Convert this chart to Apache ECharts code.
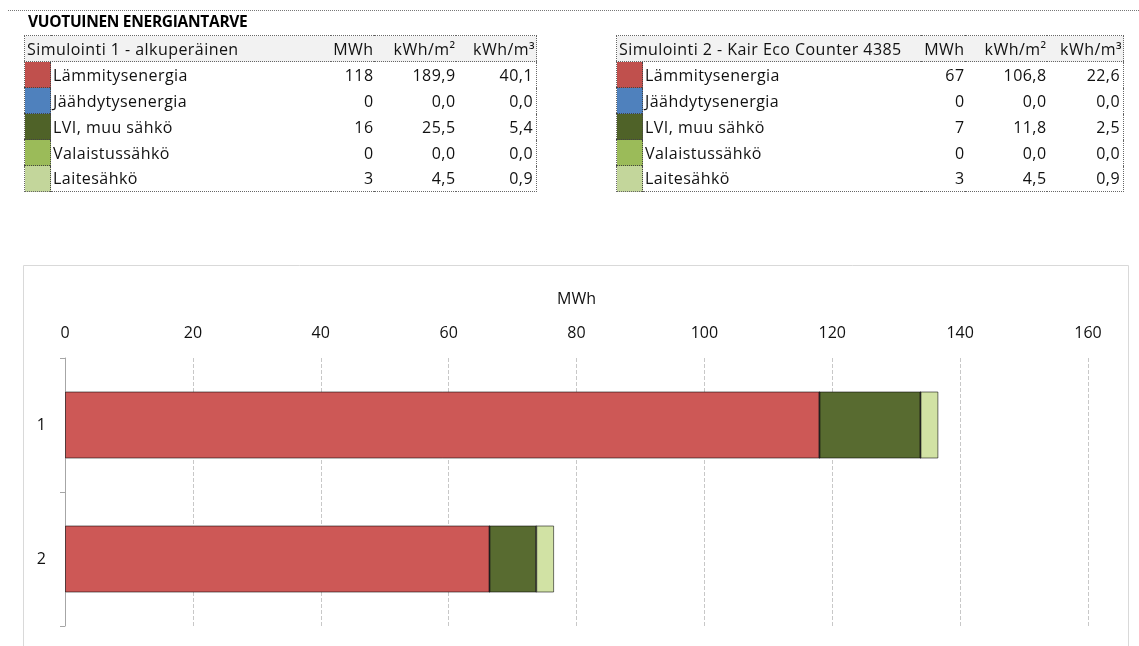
<!DOCTYPE html>
<html><head><meta charset="utf-8">
<script src="https://cdn.jsdelivr.net/npm/echarts@6/dist/echarts.min.js"></script>
<style>
html,body{margin:0;padding:0;background:#fff;width:1139px;height:646px;overflow:hidden;font-family:"Open Sans",sans-serif;}
#chart{position:absolute;left:0;top:0;width:1139px;height:646px;}
.topline{position:absolute;left:8px;top:10px;width:1131px;border-top:1px dotted #777;}
.title{position:absolute;left:28px;top:11px;font-size:15.5px;line-height:20px;font-weight:bold;color:#000;letter-spacing:-0.3px;}
table.t{position:absolute;top:35px;border-collapse:collapse;font-size:16px;letter-spacing:0.45px;color:#111;border:1px dotted #666;table-layout:fixed;}
table.t td{padding:0;height:25px;line-height:24px;white-space:nowrap;overflow:visible;}
table.t tr.h td{background:#f2f2f2;border-bottom:1px dotted #666;}
table.t td.sw{border-top:1px dotted #444;border-right:1px dotted #444;}
table.t td.num{text-align:right;}
</style></head>
<body>
<div id="chart"></div>
<div class="topline"></div>
<div class="title">VUOTUINEN ENERGIANTARVE</div>
<div id="tables"></div>
<script>
// ---- data ----
const seriesNames = ['Lämmitysenergia','Jäähdytysenergia','LVI, muu sähkö','Valaistussähkö','Laitesähkö'];
const categories = ['1','2'];
const tableHeaders = ['MWh','kWh/m²','kWh/m³'];
const sim1Title = 'Simulointi 1 - alkuperäinen';
const sim2Title = 'Simulointi 2 - Kair Eco Counter 4385';
const sim1MWh = ['118','0','16','0','3'];
const sim1kWhm2 = ['189,9','0,0','25,5','0,0','4,5'];
const sim1kWhm3 = ['40,1','0,0','5,4','0,0','0,9'];
const sim2MWh = ['67','0','7','0','3'];
const sim2kWhm2 = ['106,8','0,0','11,8','0,0','4,5'];
const sim2kWhm3 = ['22,6','0,0','2,5','0,0','0,9'];
// bar values (MWh) per category [sim1, sim2]
const lammitys = [118.0, 66.4];
const jaahdytys = [0, 0];
const lvi = [15.8, 7.3];
const valaistus = [0, 0];
const laite = [2.8, 2.8];
const xTicks = [0, 20, 40, 60, 80, 100, 120, 140, 160];

const swatchColors = ['#C0504D','#4F81BD','#4F6228','#9BBB59','#C3D69B'];
const barColors = ['#CD5856','#4F81BD','#586B30','#9BBB59','#D1E2A4'];

function buildTable(left, widths, title, a, b, c){
  let h = '<table class="t" style="left:'+left+'px;width:'+widths.reduce((s,v)=>s+v,0)+'px">';
  h += '<colgroup>' + widths.map(w=>'<col style="width:'+w+'px">').join('') + '</colgroup>';
  h += '<tr class="h"><td colspan="2" style="padding-left:2px">'+title+'</td><td class="num">'+tableHeaders[0]+'</td><td class="num">'+tableHeaders[1]+'</td><td class="num" style="padding-right:1px">'+tableHeaders[2]+'</td></tr>';
  seriesNames.forEach((n,i)=>{
    h += '<tr><td class="sw" style="background:'+swatchColors[i]+'"></td><td style="padding-left:2px">'+n+'</td><td class="num">'+a[i]+'</td><td class="num">'+b[i]+'</td><td class="num" style="padding-right:3px">'+c[i]+'</td></tr>';
  });
  h += '</table>';
  return h;
}
document.getElementById('tables').innerHTML =
  buildTable(24, [26, 280, 43, 82, 81], sim1Title, sim1MWh, sim1kWhm2, sim1kWhm3) +
  buildTable(616, [26, 278, 44, 82, 77], sim2Title, sim2MWh, sim2kWhm2, sim2kWhm3);

const chart = echarts.init(document.getElementById('chart'), null, {renderer:'canvas'});
const vals = [lammitys, jaahdytys, lvi, valaistus, laite];
chart.setOption({
  animation:false,
  textStyle:{fontFamily:'"Open Sans", sans-serif'},
  graphic:[{type:'rect', shape:{x:23.5,y:265.5,width:1105,height:400}, style:{fill:'none',stroke:'#d9d9d9',lineWidth:1}, z:-1}],
  grid:{left:65, right:51, top:358, bottom:20},
  xAxis:{type:'value', position:'top', min:xTicks[0], max:xTicks[xTicks.length-1], interval:20,
    name:'MWh', nameLocation:'middle', nameGap:51, nameTextStyle:{fontSize:16,color:'#111'},
    axisLine:{show:false}, axisTick:{show:false},
    axisLabel:{fontSize:16,color:'#111',margin:17},
    splitLine:{show:true,lineStyle:{color:'#c8c8c8',type:[4,2],width:1}}},
  yAxis:{type:'category', data:categories, inverse:true,
    axisLine:{lineStyle:{color:'#a6a6a6'}},
    axisTick:{show:true,length:5,lineStyle:{color:'#a6a6a6'}},
    axisLabel:{fontSize:16,color:'#111',margin:19}},
  series: seriesNames.map((n,i)=>({
    name:n, type:'bar', stack:'total', data:vals[i], barCategoryGap:'50%',
    itemStyle:{color:barColors[i], borderColor:'rgba(0,0,0,0.55)', borderWidth:1}
  }))
});
</script>
</body></html>
